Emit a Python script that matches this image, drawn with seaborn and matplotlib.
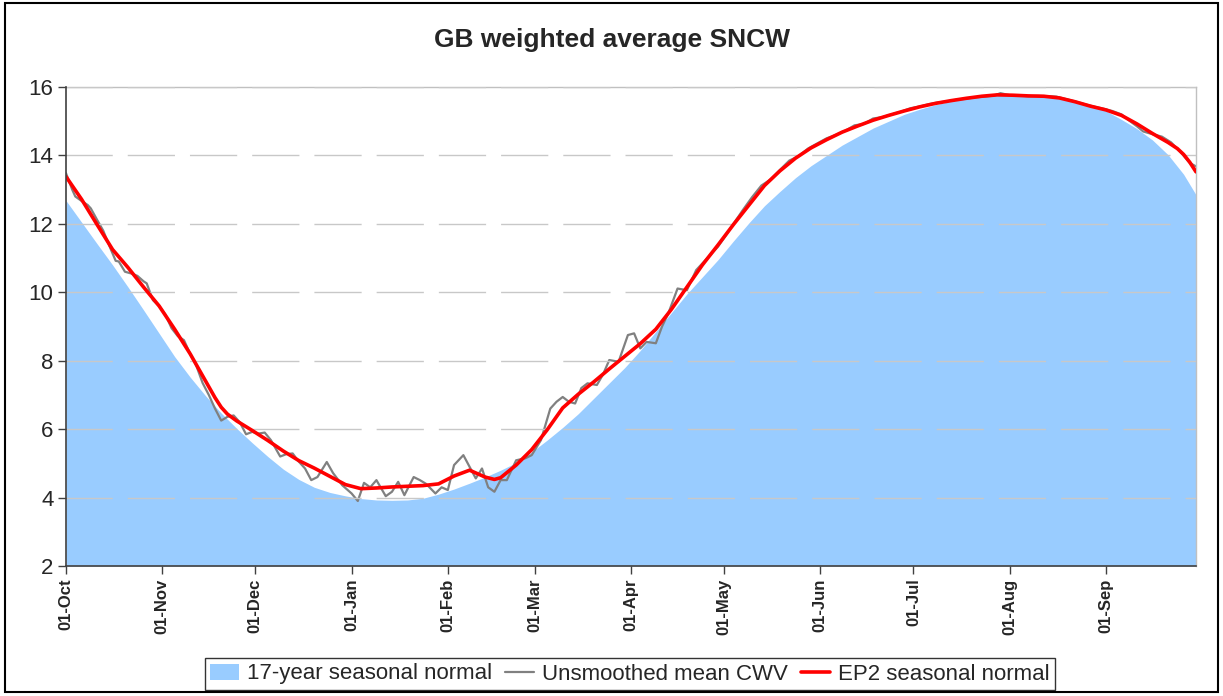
import pandas as pd
import numpy as np
import seaborn as sns
import matplotlib.pyplot as plt
import matplotlib.dates as mdates
from matplotlib.patches import Rectangle, Patch
from matplotlib.lines import Line2D

# days counted from 01-Oct (non-leap gas year)
start = pd.Timestamp("2009-10-01")

normal_days = [0, 5, 10, 15, 20, 25, 30, 35, 40, 45, 50, 55, 60, 65, 70, 75, 80, 85, 90, 95,
               100, 105, 110, 115, 120, 125, 130, 135, 140, 145, 150, 155, 160, 165, 170, 175,
               180, 185, 190, 195, 200, 205, 210, 215, 220, 225, 230, 235, 240, 245, 250, 255,
               260, 265, 270, 275, 280, 285, 290, 295, 300, 305, 310, 315, 320, 325, 330, 335,
               340, 345, 350, 355, 360, 364]
normal_17yr = [12.68, 12.05, 11.42, 10.8, 10.15, 9.48, 8.8, 8.12, 7.52, 6.97, 6.47, 6.02, 5.6,
               5.2, 4.83, 4.53, 4.3, 4.15, 4.05, 3.97, 3.93, 3.92, 3.93, 3.98, 4.1, 4.25, 4.42,
               4.6, 4.8, 5.02, 5.33, 5.68, 6.05, 6.45, 6.9, 7.35, 7.8, 8.3, 8.85, 9.4, 9.95,
               10.45, 10.95, 11.5, 12.03, 12.53, 12.95, 13.35, 13.7, 14.0, 14.3, 14.55, 14.8,
               15.0, 15.2, 15.35, 15.48, 15.58, 15.66, 15.72, 15.76, 15.78, 15.78, 15.76, 15.7,
               15.6, 15.47, 15.3, 15.05, 14.78, 14.45, 14.02, 13.45, 12.85]

ep2_days = [0, 5, 10, 15, 20, 25, 30, 35, 40, 45, 48, 50, 52, 55, 60, 65, 70, 75, 80, 85, 90,
            95, 100, 105, 110, 115, 120, 125, 130, 135, 138, 140, 145, 150, 155, 160, 165, 170,
            175, 180, 185, 190, 195, 200, 205, 210, 215, 220, 225, 230, 235, 240, 245, 250,
            255, 260, 265, 270, 275, 280, 285, 290, 295, 300, 305, 310, 315, 320, 325, 330,
            335, 340, 345, 350, 355, 358, 360, 362, 364]
ep2_normal = [13.38, 12.72, 11.98, 11.25, 10.72, 10.15, 9.6, 8.92, 8.2, 7.4, 6.92, 6.64, 6.44,
              6.24, 5.96, 5.67, 5.36, 5.08, 4.86, 4.62, 4.38, 4.26, 4.28, 4.31, 4.33, 4.35,
              4.4, 4.63, 4.8, 4.6, 4.53, 4.58, 4.95, 5.4, 5.98, 6.62, 7.02, 7.38, 7.76, 8.13,
              8.5, 8.92, 9.5, 10.15, 10.8, 11.38, 11.98, 12.55, 13.12, 13.55, 13.92, 14.22,
              14.46, 14.68, 14.86, 15.03, 15.17, 15.3, 15.42, 15.52, 15.6, 15.67, 15.73, 15.77,
              15.76, 15.74, 15.73, 15.68, 15.57, 15.44, 15.33, 15.17, 14.92, 14.64, 14.38,
              14.2, 14.03, 13.8, 13.52]

cwv_days = [0, 2, 3, 5, 7, 8, 10, 12, 14, 16, 17, 19, 21, 23, 25, 26, 28, 30, 32, 34, 36, 38,
            40, 42, 44, 46, 48, 50, 52, 54, 56, 58, 60, 62, 64, 66, 69, 71, 73, 75, 77, 79, 81,
            84, 86, 89, 92, 94, 96, 98, 100, 103, 105, 107, 109, 112, 114, 116, 119, 121, 123,
            125, 128, 130, 132, 134, 136, 138, 140, 142, 145, 148, 150, 153, 156, 158, 160, 162,
            164, 166, 168, 171, 173, 175, 178, 181, 183, 185, 187, 190, 192, 194, 197, 200, 203,
            207, 210, 213, 215, 218, 221, 224, 227, 230, 233, 236, 239, 242, 245, 248, 251, 254,
            257, 260, 263, 266, 269, 272, 275, 278, 281, 284, 287, 290, 293, 296, 299, 301, 304,
            307, 310, 313, 316, 319, 322, 325, 328, 331, 334, 337, 340, 342, 345, 347, 350, 353,
            356, 359, 362, 364]
cwv_mean = [13.48, 13.0, 12.8, 12.67, 12.55, 12.45, 12.12, 11.8, 11.35, 10.92, 10.9, 10.6,
            10.55, 10.48, 10.32, 10.26, 9.77, 9.6, 9.35, 8.95, 8.72, 8.6, 8.2, 7.85, 7.35, 7.0,
            6.6, 6.25, 6.36, 6.4, 6.2, 5.85, 5.92, 5.87, 5.9, 5.68, 5.2, 5.27, 5.29, 5.05, 4.85,
            4.51, 4.6, 5.04, 4.72, 4.36, 4.12, 3.9, 4.43, 4.3, 4.51, 4.04, 4.17, 4.46, 4.07, 4.6,
            4.51, 4.4, 4.12, 4.3, 4.22, 4.95, 5.24, 4.9, 4.56, 4.85, 4.3, 4.17, 4.51, 4.51, 5.09,
            5.15, 5.24, 5.68, 6.6, 6.8, 6.94, 6.8, 6.75, 7.2, 7.34, 7.29, 7.6, 8.02, 7.97, 8.75,
            8.8, 8.36, 8.55, 8.51, 9.0, 9.38, 10.11, 10.06, 10.65, 11.04, 11.33, 11.72, 12.0,
            12.4, 12.78, 13.12, 13.3, 13.58, 13.85, 13.98, 14.2, 14.35, 14.5, 14.6, 14.72,
            14.88, 14.92, 15.08, 15.12, 15.2, 15.28, 15.38, 15.43, 15.5, 15.55, 15.58, 15.63,
            15.66, 15.7, 15.72, 15.75, 15.82, 15.76, 15.75, 15.73, 15.74, 15.73, 15.72, 15.65,
            15.58, 15.5, 15.43, 15.37, 15.3, 15.2, 15.05, 14.85, 14.7, 14.62, 14.55, 14.38,
            14.1, 13.78, 13.68]

normal = pd.DataFrame({"date": start + pd.to_timedelta(normal_days, unit="D"), "SNCW": normal_17yr})
ep2 = pd.DataFrame({"date": start + pd.to_timedelta(ep2_days, unit="D"), "SNCW": ep2_normal})
cwv = pd.DataFrame({"date": start + pd.to_timedelta(cwv_days, unit="D"), "SNCW": cwv_mean})

sns.set_style("white")
plt.rcParams["font.family"] = ["Liberation Sans", "DejaVu Sans"]

fig = plt.figure(figsize=(12.23, 6.96), dpi=100)
ax = fig.add_axes([66 / 1223, 130 / 696, 1130 / 1223, 479 / 696])

blue = "#99CCFF"
ax.fill_between(normal["date"], 2, normal["SNCW"], color=blue, linewidth=0, zorder=1)
sns.lineplot(data=cwv, x="date", y="SNCW", color="#808080", linewidth=1.6, ax=ax, zorder=2)
sns.lineplot(data=ep2, x="date", y="SNCW", color="#FF0000", linewidth=2.6, ax=ax, zorder=3)

ax.set_xlim(start, start + pd.Timedelta(days=364))
ax.set_ylim(2, 16)
ax.set_yticks(range(2, 17, 2))
ax.set_xlabel("")
ax.set_ylabel("")

ax.xaxis.set_major_locator(mdates.MonthLocator(bymonthday=1))
ax.xaxis.set_major_formatter(mdates.DateFormatter("%d-%b"))
plt.setp(ax.get_xticklabels(), rotation=90, fontweight="bold", fontsize=12)
plt.setp(ax.get_yticklabels(), fontsize=16)
ax.tick_params(axis="both", which="major", direction="out", length=6, width=1,
               color="#404040", left=True, bottom=True, pad=3)

ax.yaxis.grid(True, color="#c8c8c8", linestyle=(0.7, (34, 10.8)), linewidth=1)
ax.set_axisbelow(False)
for gl in ax.get_ygridlines():
    gl.set_zorder(1.5)
for side in ["left", "bottom"]:
    ax.spines[side].set_color("#404040")
    ax.spines[side].set_linewidth(1.2)
    ax.spines[side].set_zorder(4)
for side in ["top", "right"]:
    ax.spines[side].set_color("#c0c0c0")
    ax.spines[side].set_linewidth(1)

fig.text(0.5, 1 - 40 / 696, "GB weighted average SNCW", ha="center", va="center",
         fontsize=19, fontweight="bold")

handles = [Patch(facecolor=blue, edgecolor="none"),
           Line2D([], [], color="#808080", linewidth=1.6),
           Line2D([], [], color="#FF0000", linewidth=2.6)]
labels = ["17-year seasonal normal", "Unsmoothed mean CWV", "EP2 seasonal normal"]
leg = fig.legend(handles, labels, loc="center", bbox_to_anchor=(630 / 1223, 22 / 696), ncol=3,
                 fontsize=16, frameon=True, fancybox=False, edgecolor="black",
                 handlelength=1.3, handletextpad=0.35, columnspacing=0.6, borderpad=0.25)
leg.get_frame().set_linewidth(1)

# outer chart border
fig.patches.append(Rectangle((5 / 1223, 4 / 696), 1213 / 1223, 689 / 696, transform=fig.transFigure,
                             fill=False, edgecolor="black", linewidth=1.5))

fig.savefig("out.png", dpi=100)
